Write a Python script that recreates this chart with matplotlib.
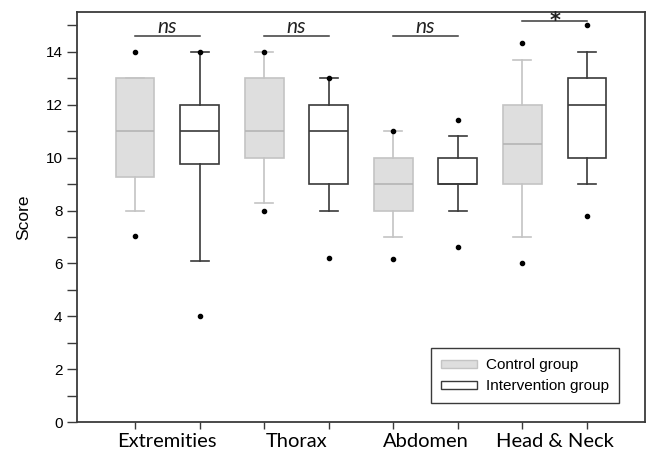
import matplotlib

matplotlib.use("Agg")
import matplotlib.pyplot as plt  # noqa: E402
from matplotlib.patches import Patch  # noqa: E402
from matplotlib.ticker import MultipleLocator  # noqa: E402

# ---------------------------------------------------------------------------
# Data
# ---------------------------------------------------------------------------
CATEGORIES = ["Extremities", "Thorax", "Abdomen", "Head & Neck"]

CTRL_Q1 = [9.25, 10.0, 8.0, 9.0]
CTRL_MED = [11.0, 11.0, 9.0, 10.5]
CTRL_Q3 = [13.0, 13.0, 10.0, 12.0]
CTRL_LO = [8.0, 8.3, 7.0, 7.0]
CTRL_HI = [13.0, 14.0, 11.0, 13.7]
CTRL_FLIERS = [[7.05, 14.0], [8.0, 14.0], [6.15, 11.0], [6.02, 14.35]]

INT_Q1 = [9.75, 9.0, 9.0, 10.0]
INT_MED = [11.0, 11.0, 9.0, 12.0]
INT_Q3 = [12.0, 12.0, 10.0, 13.0]
INT_LO = [6.1, 8.0, 8.0, 9.0]
INT_HI = [14.0, 13.0, 10.8, 14.0]
INT_FLIERS = [[4.0, 14.0], [6.2, 13.0], [6.62, 11.42], [7.78, 15.02]]

SIGNIF = ["ns", "ns", "ns", "*"]

# ---------------------------------------------------------------------------
EDGE = "#3a3a3a"
CTRL_FILL = "#dedede"
CTRL_EDGE = "#c4c4c4"
CTRL_MEDC = "#b4b4b4"

plt.rcParams.update({
    "font.family": ["Liberation Sans", "DejaVu Sans"],
    "axes.edgecolor": EDGE,
    "xtick.color": EDGE,
    "ytick.color": EDGE,
})


def _stats(q1, med, q3, lo, hi, fliers):
    return [dict(q1=a, med=b, q3=c, whislo=d, whishi=e, fliers=f)
            for a, b, c, d, e, f in zip(q1, med, q3, lo, hi, fliers)]


fig = plt.figure(figsize=(6.47, 4.5), dpi=100)
ax = fig.add_axes([0.119, 0.062, 0.878, 0.911])

pos_ctrl = [1 + 2 * i for i in range(len(CATEGORIES))]
pos_int = [p + 1 for p in pos_ctrl]
flier = dict(marker="o", markersize=3.0, markerfacecolor="black",
             markeredgecolor="black", linestyle="none")

ax.bxp(_stats(CTRL_Q1, CTRL_MED, CTRL_Q3, CTRL_LO, CTRL_HI, CTRL_FLIERS),
       positions=pos_ctrl, widths=0.6, capwidths=0.28, patch_artist=True,
       boxprops=dict(facecolor=CTRL_FILL, edgecolor=CTRL_EDGE, linewidth=1.2),
       whiskerprops=dict(color=CTRL_EDGE, linewidth=1.2),
       capprops=dict(color=CTRL_EDGE, linewidth=1.2),
       medianprops=dict(color=CTRL_MEDC, linewidth=1.2),
       flierprops=flier)
ax.bxp(_stats(INT_Q1, INT_MED, INT_Q3, INT_LO, INT_HI, INT_FLIERS),
       positions=pos_int, widths=0.6, capwidths=0.28, patch_artist=True,
       boxprops=dict(facecolor="white", edgecolor=EDGE, linewidth=1.2),
       whiskerprops=dict(color=EDGE, linewidth=1.2),
       capprops=dict(color=EDGE, linewidth=1.2),
       medianprops=dict(color=EDGE, linewidth=1.2),
       flierprops=flier)

# significance bars
for pc, pi, s in zip(pos_ctrl, pos_int, SIGNIF):
    if s == "*":
        ax.plot([pc, pi], [15.17, 15.17], color=EDGE, lw=1.1)
        ax.text((pc + pi) / 2, 14.95, s, ha="center", va="baseline",
                fontsize=15, fontweight="bold", family="DejaVu Sans",
                color="#222222")
    else:
        ax.plot([pc, pi], [14.6, 14.6], color=EDGE, lw=1.1)
        ax.text((pc + pi) / 2, 14.72, s, ha="center", va="baseline",
                fontsize=15, style="italic", family="Lato", color="#222222")

ax.set_xlim(0.1, 8.9)
ax.set_ylim(0, 15.5)
ax.set_xticks(pos_ctrl + pos_int, [""] * (2 * len(CATEGORIES)))
ax.tick_params(axis="x", length=5, width=1)
for pc, pi, name in zip(pos_ctrl, pos_int, CATEGORIES):
    ax.text((pc + pi) / 2, -0.93, name, ha="center", va="baseline",
            fontsize=14.5, family="Lato", color="black")

ax.yaxis.set_major_locator(MultipleLocator(2))
ax.yaxis.set_minor_locator(MultipleLocator(1))
ax.tick_params(axis="y", which="major", length=7, width=1, labelsize=11,
               labelcolor="black")
ax.tick_params(axis="y", which="minor", length=7, width=1)
ax.set_ylabel("Score", fontsize=12.5, color="black", labelpad=10)
for sp in ax.spines.values():
    sp.set_linewidth(1.3)

handles = [
    Patch(facecolor=CTRL_FILL, edgecolor=CTRL_EDGE, label="Control group"),
    Patch(facecolor="white", edgecolor=EDGE, label="Intervention group"),
]
leg = ax.legend(handles=handles, loc="lower right",
                bbox_to_anchor=(0.967, 0.028), fontsize=11, fancybox=False,
                edgecolor=EDGE, framealpha=1, handlelength=2.4,
                handleheight=0.45, handletextpad=0.55, borderpad=0.65,
                labelspacing=0.45)
leg.get_frame().set_linewidth(1.0)

fig.savefig("out.png", dpi=100)
